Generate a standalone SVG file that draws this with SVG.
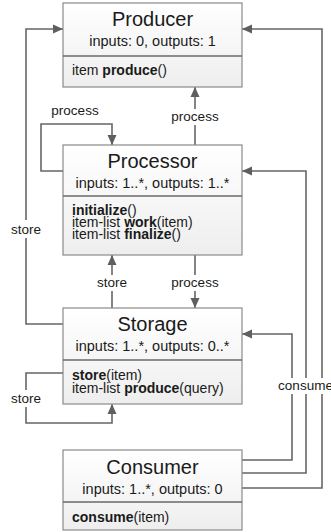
<svg xmlns="http://www.w3.org/2000/svg" width="331" height="532" viewBox="0 0 331 532">
<defs>
<linearGradient id="g" x1="0" y1="0" x2="0" y2="1">
<stop offset="0" stop-color="#ffffff"/>
<stop offset="1" stop-color="#eeeeee"/>
</linearGradient>
<marker id="ah" markerWidth="10" markerHeight="10" viewBox="0 0 10 10" refX="10" refY="5" orient="auto" markerUnits="userSpaceOnUse">
<path d="M0,0.5 L10,5 L0,9.5 Z" fill="#5f5f5f"/>
</marker>
</defs>
<style>
.box{fill:url(#g);stroke:#8a8a8a;stroke-width:1.2}
.sep{stroke:#6a6a6a;stroke-width:1.5}
.title{font-family:"Liberation Sans",Arial,sans-serif;font-size:20px;fill:#1a1a1a;text-anchor:middle}
.sub{font-family:"Liberation Sans",Arial,sans-serif;font-size:14.5px;fill:#1a1a1a;text-anchor:middle}
.m{font-family:"Liberation Sans",Arial,sans-serif;font-size:14px;fill:#1a1a1a}
.m tspan.b{font-weight:bold}
.lbl{font-family:"Liberation Sans",Arial,sans-serif;font-size:13.5px;fill:#1a1a1a;text-anchor:middle}
.c{fill:none;stroke:#666666;stroke-width:1.6}
.bg{fill:#ffffff}
</style>
<g id="connectors">
<path class="c" d="M63,324 H26 V29 H63" marker-end="url(#ah)"/>
<path class="c" d="M63,171 H41 V124 H112 V145" marker-end="url(#ah)"/>
<path class="c" d="M195,145 V87" marker-end="url(#ah)"/>
<path class="c" d="M112,308 V255" marker-end="url(#ah)"/>
<path class="c" d="M195,255 V308" marker-end="url(#ah)"/>
<path class="c" d="M63,373 H26 V423 H112 V404" marker-end="url(#ah)"/>
<path class="c" d="M242,460 H292 V334 H242" marker-end="url(#ah)"/>
<path class="c" d="M242,473 H306 V171 H242" marker-end="url(#ah)"/>
<path class="c" d="M242,488 H322 V29 H242" marker-end="url(#ah)"/>
<rect class="bg" x="8" y="220" width="36" height="18"/>
<text class="lbl" x="26" y="234">store</text>
<text class="lbl" x="75" y="115">process</text>
<rect class="bg" x="170" y="109" width="50" height="16"/>
<text class="lbl" x="195" y="121">process</text>
<rect class="bg" x="92" y="275" width="40" height="16"/>
<text class="lbl" x="112" y="287">store</text>
<rect class="bg" x="170" y="275" width="50" height="16"/>
<text class="lbl" x="195" y="287">process</text>
<rect class="bg" x="8" y="390" width="36" height="17"/>
<text class="lbl" x="26" y="403">store</text>
<rect class="bg" x="276" y="378" width="60" height="16"/>
<text class="lbl" x="305.5" y="390">consume</text>
</g>
<g id="producer">
<rect class="box" x="63" y="3" width="179" height="84"/>
<line class="sep" x1="63" y1="56" x2="242" y2="56"/>
<text class="title" x="152.5" y="26">Producer</text>
<text class="sub" x="152.5" y="46">inputs: 0, outputs: 1</text>
<text class="m" x="72" y="75">item <tspan class="b">produce</tspan>()</text>
</g>
<g id="processor">
<rect class="box" x="63" y="145" width="179" height="110"/>
<line class="sep" x1="63" y1="196" x2="242" y2="196"/>
<text class="title" x="152.5" y="168">Processor</text>
<text class="sub" x="152.5" y="188">inputs: 1..*, outputs: 1..*</text>
<text class="m" x="72" y="215"><tspan class="b">initialize</tspan>()</text>
<text class="m" x="72" y="227">item-list <tspan class="b">work</tspan>(item)</text>
<text class="m" x="72" y="239">item-list <tspan class="b">finalize</tspan>()</text>
</g>
<g id="storage">
<rect class="box" x="63" y="308" width="179" height="96"/>
<line class="sep" x1="63" y1="360" x2="242" y2="360"/>
<text class="title" x="152.5" y="331">Storage</text>
<text class="sub" x="152.5" y="351">inputs: 1..*, outputs: 0..*</text>
<text class="m" x="72" y="380"><tspan class="b">store</tspan>(item)</text>
<text class="m" x="72" y="393">item-list <tspan class="b">produce</tspan>(query)</text>
</g>
<g id="consumer">
<rect class="box" x="63" y="450" width="179" height="80"/>
<line class="sep" x1="63" y1="502" x2="242" y2="502"/>
<text class="title" x="152.5" y="474">Consumer</text>
<text class="sub" x="152.5" y="494">inputs: 1..*, outputs: 0</text>
<text class="m" x="72" y="522"><tspan class="b">consume</tspan>(item)</text>
</g>
</svg>
